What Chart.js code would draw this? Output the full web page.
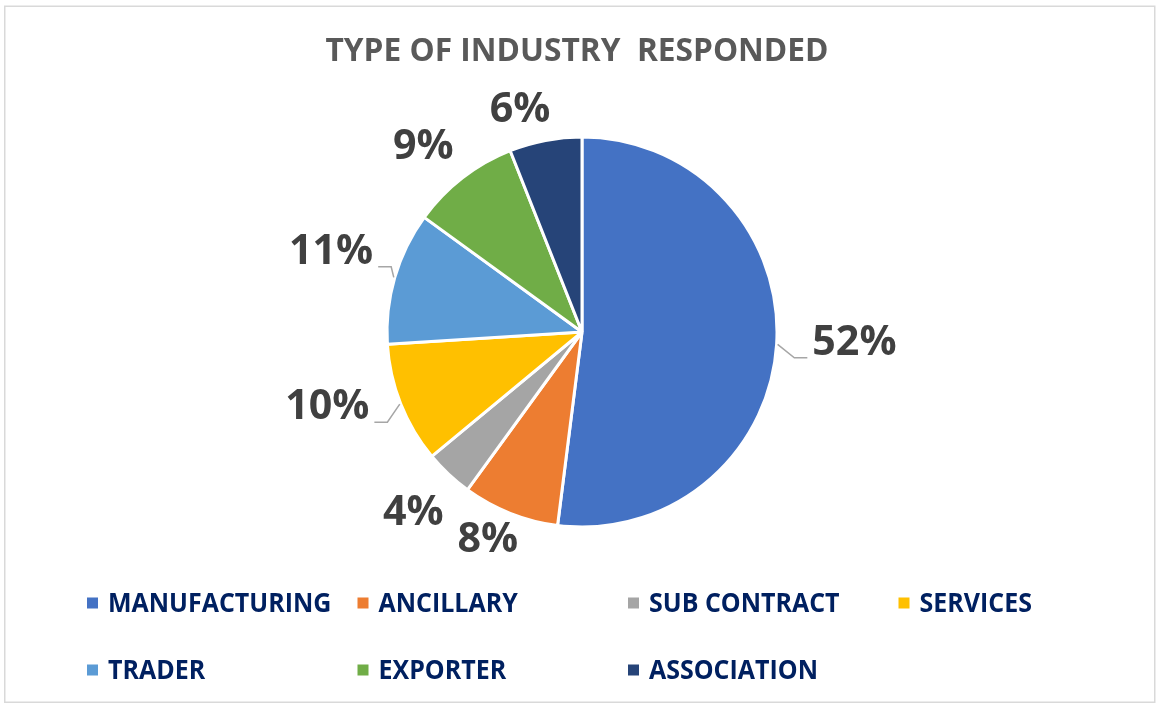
<!DOCTYPE html>
<html>
<head>
<meta charset="utf-8">
<title>Type of Industry Responded</title>
<script src="https://cdn.jsdelivr.net/npm/chart.js@4.4.1/dist/chart.umd.min.js"></script>
<style>
  html, body { margin: 0; padding: 0; background: #ffffff; }
  #wrap { width: 1157px; height: 705px; }
</style>
</head>
<body>
<div id="wrap"><canvas id="pie" width="1157" height="705"></canvas></div>
<script>
// Survey responses by industry type (percent of respondents)
const categories = ['MANUFACTURING', 'ANCILLARY', 'SUB CONTRACT', 'SERVICES', 'TRADER', 'EXPORTER', 'ASSOCIATION'];
const shares = [52, 8, 4, 10, 11, 9, 6];
const chartTitle = 'TYPE OF INDUSTRY  RESPONDED';

// Slice colours (Office palette)
const sliceColors = ['#4472C4', '#ED7D31', '#A5A5A5', '#FFC000', '#5B9BD5', '#70AD47', '#264478'];

// Label layout: which labels get a leader line, and small nudges for crowded slices
const hasLeader = [true, false, false, true, true, false, false];
const labelNudge = [[5, -7], [-8, -11], [-4, 5], [-4, -25], [8, -6], [-12, 3], [-19, 2]];

const FONT = '"Open Sans", "Liberation Sans", sans-serif';

function drawText(ctx, text, x, y, size, color, align, scaleX) {
  ctx.save();
  ctx.font = 'bold ' + size + 'px ' + FONT;
  ctx.fillStyle = color;
  ctx.textBaseline = 'middle';
  const w = ctx.measureText(text).width * scaleX;
  let left = x;
  if (align === 'center') left = x - w / 2;
  else if (align === 'right') left = x - w;
  ctx.translate(left, y);
  ctx.scale(scaleX, 1);
  ctx.textAlign = 'left';
  ctx.fillText(text, 0, 0);
  ctx.restore();
  return w;
}

// Frame, title, value labels with leader lines, and the two-row legend
const decorations = {
  id: 'decorations',
  beforeDraw(chart) {
    const ctx = chart.ctx;
    ctx.save();
    ctx.fillStyle = '#ffffff';
    ctx.fillRect(0, 0, chart.width, chart.height);
    ctx.strokeStyle = '#d9d9d9';
    ctx.lineWidth = 1.5;
    ctx.strokeRect(4.75, 6.25, 1150, 696);
    ctx.restore();
    drawText(ctx, chartTitle, 577, 52, 32, '#595959', 'center', 0.99);
  },
  afterDatasetsDraw(chart) {
    const ctx = chart.ctx;
    const meta = chart.getDatasetMeta(0);
    const total = shares.reduce((a, b) => a + b, 0);
    const labelSize = 42, labelScale = 0.98, capH = 30;

    meta.data.forEach((arc, i) => {
      const p = arc.getProps(['x', 'y', 'startAngle', 'endAngle', 'outerRadius'], true);
      const mid = (p.startAngle + p.endAngle) / 2;
      const dx = Math.cos(mid), dy = Math.sin(mid);
      const text = Math.round(shares[i] / total * 100) + '%';

      ctx.save();
      ctx.font = 'bold ' + labelSize + 'px ' + FONT;
      const w = ctx.measureText(text).width * labelScale;
      ctx.restore();

      const gap = hasLeader[i] ? 30 : 14;
      const proj = Math.abs(dx) * w / 2 + Math.abs(dy) * capH / 2;
      const dist = p.outerRadius + gap + proj;
      const cx = p.x + dx * dist + labelNudge[i][0];
      const cy = p.y + dy * dist + labelNudge[i][1];

      if (hasLeader[i]) {
        const sx = p.x + dx * (p.outerRadius + 1);
        const sy = p.y + dy * (p.outerRadius + 1);
        const side = dx >= 0 ? -1 : 1;           // which way the pie lies from the label
        const edge = cx + side * w / 2;
        const ly = cy + capH / 2 + 1;
        ctx.save();
        ctx.strokeStyle = '#a6a6a6';
        ctx.lineWidth = 1.5;
        ctx.beginPath();
        ctx.moveTo(sx, sy);
        ctx.lineTo(edge + side * 18, ly);
        ctx.lineTo(edge + side * 5, ly);
        ctx.stroke();
        ctx.restore();
      }
      drawText(ctx, text, cx, cy + 1, labelSize, '#404040', 'center', labelScale);
    });

    // Legend: four columns, two rows
    categories.forEach((name, i) => {
      const col = i % 4, row = Math.floor(i / 4);
      const mx = 87 + col * 270.5;
      const my = 603 + row * 67;
      ctx.save();
      ctx.fillStyle = sliceColors[i];
      ctx.fillRect(mx, my - 5.5, 11, 11);
      ctx.restore();
      drawText(ctx, name, mx + 21, my + 1, 27, '#002060', 'left', 0.925);
    });
  }
};

new Chart(document.getElementById('pie'), {
  type: 'pie',
  data: {
    labels: categories,
    datasets: [{
      data: shares,
      backgroundColor: sliceColors,
      borderColor: '#ffffff',
      borderWidth: 3,
      radius: 195
    }]
  },
  options: {
    responsive: false,
    animation: false,
    events: [],
    layout: { padding: { left: 200, right: 193, top: 100, bottom: 141 } },
    plugins: {
      legend: { display: false },
      title: { display: false },
      tooltip: { enabled: false }
    }
  },
  plugins: [decorations]
});
</script>
</body>
</html>
